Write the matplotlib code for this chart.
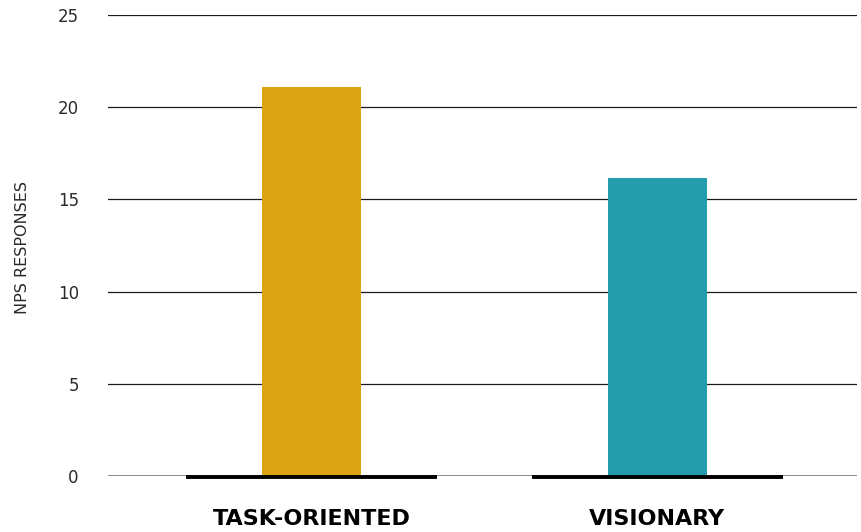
import numpy as np
import matplotlib.pyplot as plt

categories = ['TASK-ORIENTED', 'VISIONARY']
responses = [21.1, 16.15]
bar_colors = ['#DBA312', '#239DAB']
y_ticks = [0, 5, 10, 15, 20, 25]

plt.rcParams['font.family'] = ['DejaVu Sans']

fig = plt.figure(figsize=(8.62, 5.32), dpi=100)
ax = fig.add_axes([108/862, 1-476/532, (857-108)/862, (476-15)/532])

x = np.arange(len(categories))

# grid lines behind bars
for t in y_ticks[1:]:
    ax.axhline(t, color='#1a1a1a', linewidth=0.9, zorder=1)
ax.axhline(0, color='#777777', linewidth=1.2, zorder=1)

ax.bar(x, responses, width=0.286, color=bar_colors, zorder=2)

# thick baseline under each category
for xi in x:
    ax.plot([xi-0.362, xi+0.362], [-0.08, -0.08], color='black',
            linewidth=2.8, solid_capstyle='butt', zorder=3, clip_on=False)

ax.set_xlim(-0.588, 1.577)
ax.set_ylim(0, 25)
ax.set_yticks(y_ticks)
ax.set_yticklabels([str(t) for t in y_ticks], fontsize=12, color='#2a2a2a')
ax.tick_params(axis='y', length=0, pad=21)
ax.set_xticks(x)
ax.set_xticklabels(categories, fontsize=16, fontweight='bold', color='black')
ax.tick_params(axis='x', length=0, pad=24)
for s in ax.spines.values():
    s.set_visible(False)

fig.text(23/862, 1-248/532, 'NPS RESPONSES', rotation=90, fontsize=11.5,
         color='#2a2a2a', ha='center', va='center')

fig.savefig('out.png', dpi=100, facecolor='white')
